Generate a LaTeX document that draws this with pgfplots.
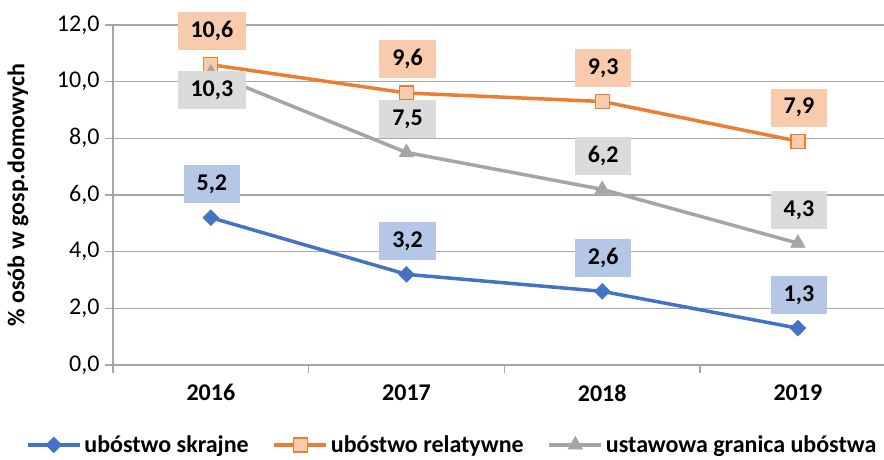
\documentclass[border=0pt]{standalone}
\usepackage{pgfplots}
\pgfplotsset{compat=1.18}
\usepackage{fontspec}
\setmainfont{Carlito}
\definecolor{cblue}{HTML}{4472C4}
\definecolor{corange}{HTML}{ED7D31}
\definecolor{cgray}{HTML}{A5A5A5}
\definecolor{lblue}{HTML}{B4C7E7}
\definecolor{lorange}{HTML}{F8CBAD}
\definecolor{lgray}{HTML}{DBDBDB}
\definecolor{gridc}{HTML}{A6A6A6}
\tikzset{lbl/.style={font=\fontsize{24}{28}\selectfont\bfseries, text=black, minimum height=38pt, inner xsep=13pt, inner ysep=0pt, anchor=south, yshift=14pt, xshift=1pt}}
\begin{document}
\begin{tikzpicture}
\begin{axis}[
  scale only axis,
  width=771pt, height=340pt,
  xmin=-0.5, xmax=3.44,
  ymin=0, ymax=12,
  ytick={0,2,...,12},
  xtick={0,1,2,3},
  xticklabels={\textbf{2016},\textbf{2017},\textbf{2018},\textbf{2019}},
  minor xtick={-0.5,0.5,1.5,2.5},
  major x tick style={draw=none},
  minor tick length=8pt,
  major tick length=8pt,
  tick align=outside,
  tick style={gridc, line width=1.2pt},
  axis x line*=bottom,
  axis y line*=left,
  axis line style={gridc, line width=1.2pt},
  separate axis lines,
  x axis line style={-}, y axis line style={-},
  ymajorgrids,
  major grid style={gridc, line width=1.2pt},
  tick label style={font=\fontsize{24}{28}\selectfont, text=black},
  xticklabel style={yshift=-8pt},
  yticklabel style={xshift=-2pt},
  /pgf/number format/.cd, fixed, fixed zerofill, precision=1, use comma, assume math mode=true,
  /pgfplots/.cd,
  ylabel={\textbf{\% osób w gosp.domowych}},
  every axis y label/.style={at={(axis description cs:0,0.5)}, xshift=-95pt, rotate=90, anchor=center, font=\fontsize{24}{28}\selectfont},
  legend columns=3,
  legend style={draw=none, fill=none, at={(0.440,-0.235)}, anchor=center,
    font=\fontsize{24}{28}\selectfont\bfseries, /tikz/every even column/.append style={column sep=22pt},
    /tikz/every odd column/.append style={column sep=1pt}},
  legend image code/.code={\draw[mark repeat=2, mark phase=2, line width=3.2pt] plot coordinates {(0pt,0pt) (26pt,0pt) (52pt,0pt)};},
]
\addplot[cblue, line width=3.5pt, mark=square*, mark size=5.6pt, mark options={rotate=45, fill=cblue, draw=cblue, line width=0.5pt},
  nodes near coords, every node near coord/.style={lbl, fill=lblue}]
  coordinates {(0,5.2) (1,3.2) (2,2.6) (3,1.3)};
\addlegendentry{ubóstwo skrajne}
\addplot[corange, line width=3.5pt, mark=square*, mark size=7pt, mark options={fill=lorange, draw=corange, line width=1.3pt},
  nodes near coords, every node near coord/.style={lbl, fill=lorange}]
  coordinates {(0,10.6) (1,9.6) (2,9.3) (3,7.9)};
\addlegendentry{ubóstwo relatywne}
\addplot[cgray, line width=3.5pt, mark=triangle*, mark size=8.5pt, mark options={fill=cgray, draw=cgray, line width=0.5pt}]
  coordinates {(0,10.3) (1,7.5) (2,6.2) (3,4.3)};
\addlegendentry{ustawowa granica ubóstwa}
\addplot[draw=none, mark=none, forget plot, nodes near coords, every node near coord/.style={lbl, fill=lgray}]
  coordinates {(1,7.5) (2,6.2) (3,4.3)};
\addplot[draw=none, mark=none, forget plot, nodes near coords, every node near coord/.style={lbl, fill=lgray, anchor=north, yshift=-12pt}]
  coordinates {(0,10.3)};
\end{axis}
\pgfresetboundingbox
\path[use as bounding box] (current axis.south west) ++(-113pt,-94pt) rectangle ++(884pt,459pt);
\end{tikzpicture}
\end{document}
